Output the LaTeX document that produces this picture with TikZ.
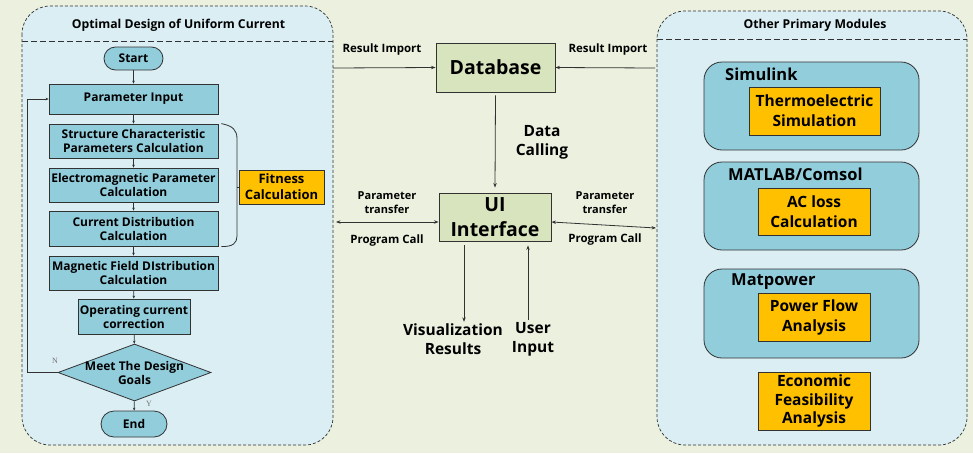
\documentclass[tikz,border=0pt]{standalone}
\usepackage{fontspec}
\setmainfont{Open Sans}
\newfontfamily\tagfont{Liberation Serif}
\usetikzlibrary{arrows.meta,shapes.geometric}

\definecolor{pagebg}{RGB}{235,241,222}
\definecolor{panelfill}{RGB}{219,238,244}
\definecolor{boxblue}{RGB}{146,205,220}
\definecolor{boxorange}{RGB}{255,192,0}
\definecolor{boxgreen}{RGB}{215,228,189}
\definecolor{edge}{RGB}{50,50,50}

\newcommand\fs[2]{\fontsize{#1pt}{#2pt}\selectfont\bfseries}

\begin{document}
\begin{tikzpicture}[x=1pt,y=-1pt,
  panel/.style={draw=edge, line width=0.7pt, dash pattern=on 3pt off 2pt, fill=panelfill, rounded corners=28pt},
  sep/.style={draw=edge, line width=0.7pt, dash pattern=on 6pt off 3pt},
  fbox/.style={draw=edge, line width=0.8pt, fill=boxblue, minimum width=169pt, minimum height=34pt, inner sep=0pt, align=center, font=\fs{12}{14}},
  term/.style={fbox, minimum width=59pt, minimum height=23pt, rounded corners=11.5pt},
  decision/.style={draw=edge, line width=0.8pt, fill=boxblue, diamond, inner sep=0pt, minimum width=153pt, minimum height=57pt},
  obox/.style={draw=edge, line width=0.8pt, fill=boxorange, inner sep=0pt, align=center},
  gbox/.style={draw=edge, line width=0.9pt, fill=boxgreen, inner sep=0pt, align=center, font=\fs{19.5}{25}},
  cbox/.style={draw=edge, line width=0.8pt, fill=boxblue, minimum width=215pt, rounded corners=18pt},
  clabel/.style={anchor=west, inner sep=0pt, font=\fs{16.5}{20}},
  lbl/.style={align=center, inner sep=0pt, font=\fs{11.5}{14}},
  ptitle/.style={inner sep=0pt, font=\fs{12.2}{14}},
  farr/.style={draw=edge, line width=0.7pt, -{Stealth[length=3pt,width=2.6pt]}},
  arr/.style={draw=edge, line width=0.8pt, -{Stealth[length=4.5pt,width=3.4pt]}},
  arrboth/.style={draw=edge, line width=0.8pt, {Stealth[length=4.5pt,width=3.4pt]}-{Stealth[length=4.5pt,width=3.4pt]}},
  tag/.style={text=black!55, inner sep=0pt, font=\tagfont\fontsize{8pt}{8pt}\selectfont}
]
% page
\fill[pagebg] (0,0) rectangle (973,453);
\useasboundingbox (0,0) rectangle (973,453);

% ---------- left panel: optimisation flowchart ----------
\path[panel] (22,6) rectangle (333,445);
\draw[sep] (22,41) -- (333,41);
\node[ptitle] (ltitle) at (178.5,25) {Optimal Design of Uniform Current};

\node[term] (start) at (133.5,58.5) {Start};
\node[fbox, minimum height=30pt] (pin) at (133.5,99) {Parameter Input};
\node[fbox] (scp) at (133.5,141) {Structure Characteristic\\Parameters Calculation};
\node[fbox] (emp) at (133.5,185) {Electromagnetic Parameter\\Calculation};
\node[fbox, minimum height=35pt] (cdc) at (133.5,228.5) {Current Distribution\\Calculation};
\node[fbox] (mfd) at (133.5,273) {Magnetic Field DIstribution\\Calculation};
\node[fbox, minimum width=112pt, minimum height=35pt] (occ) at (134,316.5) {Operating current\\correction};
\node[decision] (dec) at (134.5,372.5) {};
\node[align=center, inner sep=0pt, font=\fs{12}{14}] (dectext) at (dec) {Meet The Design\\Goals};
\node[term, minimum width=66pt, minimum height=26pt, rounded corners=13pt] (stop) at (134,424) {End};

\draw[farr] (start) -- (pin);
\draw[farr] (pin) -- (scp);
\draw[farr] (scp) -- (emp);
\draw[farr] (emp) -- (cdc);
\draw[farr] (cdc) -- (mfd);
\draw[farr] (mfd) -- (occ);
\draw[farr] (occ) -- (dec);
\draw[farr] (dec) -- (stop);
\draw[farr] (dec.west) -- ++(-30,0) |- (pin.west);
\node[tag] (ntag) at (55,361) {N};
\node[tag] (ytag) at (149,404) {Y};

% bracket grouping the three calculation steps
\node[obox, minimum width=85pt, minimum height=34pt, font=\fs{13}{16}] (fit) at (281.5,187) {Fitness\\Calculation};
\coordinate (brtop) at ([xshift=3pt]scp.north east);
\coordinate (brbot) at ([xshift=3pt]cdc.south east);
\coordinate (brmid) at (237,187);
\draw[draw=edge, line width=0.8pt] (brtop) .. controls (233,126) and (237,130) .. (237,139) -- (237,236) .. controls (237,243) and (233,247) .. (brbot);
\draw[draw=edge, line width=0.8pt] (brmid) -- (fit.west);

% ---------- right panel: other modules ----------
\path[panel] (657,11) rectangle (967,445);
\draw[sep] (657,39) -- (967,39);
\node[ptitle] (rtitle) at (815,25) {Other Primary Modules};

\node[cbox, minimum height=88pt] (sim) at (811.5,106) {};
\node[clabel] (simlbl) at (725,74) {Simulink};
\node[obox, minimum width=131pt, minimum height=48pt, font=\fs{15.5}{20}] (thermo) at (814.5,111) {Thermoelectric\\Simulation};

\node[cbox, minimum height=88pt] (mat) at (811.5,206) {};
\node[clabel] (matlbl) at (728,174) {MATLAB/Comsol};
\node[obox, minimum width=112pt, minimum height=47pt, font=\fs{15.5}{20}] (acl) at (814,211.5) {AC loss\\Calculation};

\node[cbox, minimum height=89pt] (mpw) at (811.5,313.5) {};
\node[clabel] (mpwlbl) at (731,282) {Matpower};
\node[obox, minimum width=112pt, minimum height=48pt, font=\fs{15.5}{20}] (pfa) at (814,317) {Power Flow\\Analysis};

\node[obox, minimum width=112pt, minimum height=58pt, font=\fs{15.5}{18.5}] (eco) at (814,401) {Economic\\Feasibility\\Analysis};

% ---------- centre: database and user interface ----------
\node[gbox, minimum width=119pt, minimum height=49pt] (db) at (495.5,67.5) {Database};
\node[gbox, minimum width=112pt, minimum height=48pt] (ui) at (495,217) {UI\\Interface};

\coordinate (lri) at (333,68);
\coordinate (rri) at (655,68);
\draw[arr] (lri) -- (db.west);
\draw[arr] (rri) -- (db.east);
\node[lbl] (lrilbl) at (382,50) {Result Import};
\node[lbl] (rrilbl) at (608,50) {Result Import};

\draw[arr] ([yshift=-3pt]db.south) -- ([yshift=5pt]ui.north);
\node[align=center, inner sep=0pt, font=\fs{15.5}{19}] (dcall) at (542,142) {Data\\Calling};

\coordinate (lpt) at (336,222);
\coordinate (rpt) at (656,228);
\draw[arrboth] (lpt) -- ([yshift=-5pt]ui.west);
\draw[arrboth] ([yshift=-5pt]ui.east) -- (rpt);
\node[align=center, inner sep=0pt, font=\fs{11}{14}] (lptlbl) at (387,203) {Parameter\\transfer};
\node[lbl] (lpclbl) at (387,241) {Program Call};
\node[align=center, inner sep=0pt, font=\fs{11}{14}] (rptlbl) at (605,203) {Parameter\\transfer};
\node[lbl] (rpclbl) at (605,240) {Program Call};

\node[align=center, inner sep=0pt, font=\fs{15.5}{19}] (vis) at (453,339.5) {Visualization\\Results};
\node[align=center, inner sep=0pt, font=\fs{15.5}{19}] (usr) at (533,339.5) {User\\Input};
\draw[arr] ([xshift=-31pt,yshift=-4pt]ui.south) -- ([xshift=-31pt,yshift=2pt]ui.south |- vis.north);
\draw[arr] ([xshift=33pt,yshift=2pt]ui.south |- usr.north) -- ([xshift=33pt,yshift=-4pt]ui.south);
\end{tikzpicture}
\end{document}
